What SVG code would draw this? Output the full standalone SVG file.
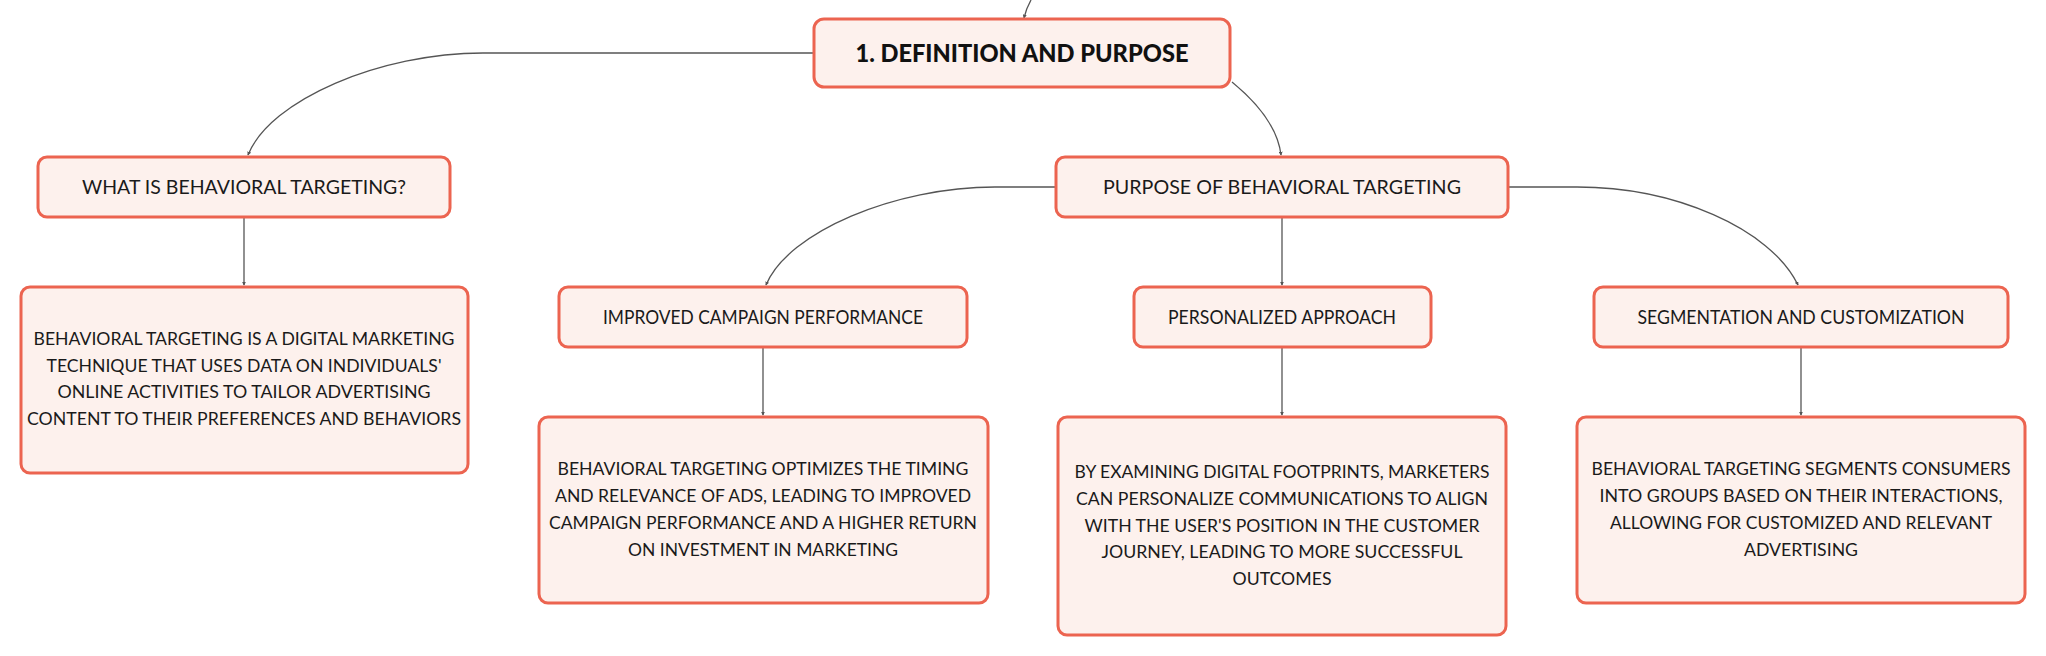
<svg xmlns="http://www.w3.org/2000/svg" width="2046" height="656" viewBox="0 0 2046 656">
<defs>
<marker id="arr" viewBox="0 0 6 6" refX="5" refY="3" markerWidth="4" markerHeight="4" orient="auto" markerUnits="userSpaceOnUse">
<path d="M0,0 L6,3 L0,6 z" fill="#555"/>
</marker>
<style>
.box{fill:#FDF1ED;stroke:#EC6450;stroke-width:3}
.conn{fill:none;stroke:#555;stroke-width:1.3;marker-end:url(#arr)}
.t{font-family:Lato,"Open Sans","DejaVu Sans",sans-serif;fill:#1a1a1a;text-anchor:middle}
.root{font-size:24px;font-weight:900;fill:#111}
.lbl{font-size:18.5px}
.det{font-size:17px}
</style>
</defs>
<rect width="2046" height="656" fill="#ffffff"/>
<g id="connectors">
<path class="conn" d="M1031,0 Q1026,9 1024,18"/>
<path class="conn" d="M813,53 H483 C380,53 270,100 248,155"/>
<path class="conn" d="M1232,82 C1260,105 1278,130 1281,155"/>
<path class="conn" d="M1055,187 H995 C895,187 788,232 766,285"/>
<path class="conn" d="M1509,187 H1577 C1674,187 1770,228 1798,285"/>
<path class="conn" d="M244,218 V285"/>
<path class="conn" d="M763,348 V415"/>
<path class="conn" d="M1282,218 V285"/>
<path class="conn" d="M1282,348 V415"/>
<path class="conn" d="M1801,348 V415"/>
</g>
<g id="root">
<rect class="box" x="814" y="19" width="416" height="68" rx="10"/>
<text class="t root" x="1022" y="62" textLength="333" lengthAdjust="spacingAndGlyphs">1. DEFINITION AND PURPOSE</text>
</g>
<g id="what-is">
<rect class="box" x="38" y="157" width="412" height="60" rx="9"/>
<text class="t lbl" x="244" y="194" textLength="324" lengthAdjust="spacingAndGlyphs">WHAT IS BEHAVIORAL TARGETING?</text>
</g>
<g id="definition">
<rect class="box" x="21" y="287" width="447" height="186" rx="9"/>
<text class="t det" x="244" y="345" textLength="421" lengthAdjust="spacingAndGlyphs">BEHAVIORAL TARGETING IS A DIGITAL MARKETING</text>
<text class="t det" x="244" y="372" textLength="395" lengthAdjust="spacingAndGlyphs">TECHNIQUE THAT USES DATA ON INDIVIDUALS'</text>
<text class="t det" x="244" y="398" textLength="373" lengthAdjust="spacingAndGlyphs">ONLINE ACTIVITIES TO TAILOR ADVERTISING</text>
<text class="t det" x="244" y="425" textLength="434" lengthAdjust="spacingAndGlyphs">CONTENT TO THEIR PREFERENCES AND BEHAVIORS</text>
</g>
<g id="purpose">
<rect class="box" x="1056" y="157" width="452" height="60" rx="9"/>
<text class="t lbl" x="1282" y="194" textLength="358" lengthAdjust="spacingAndGlyphs">PURPOSE OF BEHAVIORAL TARGETING</text>
</g>
<g id="improved">
<rect class="box" x="559" y="287" width="408" height="60" rx="9"/>
<text class="t lbl" x="763" y="324" textLength="320" lengthAdjust="spacingAndGlyphs">IMPROVED CAMPAIGN PERFORMANCE</text>
</g>
<g id="improved-detail">
<rect class="box" x="539" y="417" width="449" height="186" rx="9"/>
<text class="t det" x="763" y="475" textLength="411" lengthAdjust="spacingAndGlyphs">BEHAVIORAL TARGETING OPTIMIZES THE TIMING</text>
<text class="t det" x="763" y="502" textLength="416" lengthAdjust="spacingAndGlyphs">AND RELEVANCE OF ADS, LEADING TO IMPROVED</text>
<text class="t det" x="763" y="529" textLength="428" lengthAdjust="spacingAndGlyphs">CAMPAIGN PERFORMANCE AND A HIGHER RETURN</text>
<text class="t det" x="763" y="556" textLength="270" lengthAdjust="spacingAndGlyphs">ON INVESTMENT IN MARKETING</text>
</g>
<g id="personalized">
<rect class="box" x="1134" y="287" width="297" height="60" rx="9"/>
<text class="t lbl" x="1282" y="324" textLength="228" lengthAdjust="spacingAndGlyphs">PERSONALIZED APPROACH</text>
</g>
<g id="personalized-detail">
<rect class="box" x="1058" y="417" width="448" height="218" rx="9"/>
<text class="t det" x="1282" y="478" textLength="415" lengthAdjust="spacingAndGlyphs">BY EXAMINING DIGITAL FOOTPRINTS, MARKETERS</text>
<text class="t det" x="1282" y="505" textLength="412" lengthAdjust="spacingAndGlyphs">CAN PERSONALIZE COMMUNICATIONS TO ALIGN</text>
<text class="t det" x="1282" y="532" textLength="395" lengthAdjust="spacingAndGlyphs">WITH THE USER'S POSITION IN THE CUSTOMER</text>
<text class="t det" x="1282" y="558" textLength="361" lengthAdjust="spacingAndGlyphs">JOURNEY, LEADING TO MORE SUCCESSFUL</text>
<text class="t det" x="1282" y="585" textLength="99" lengthAdjust="spacingAndGlyphs">OUTCOMES</text>
</g>
<g id="segmentation">
<rect class="box" x="1594" y="287" width="414" height="60" rx="9"/>
<text class="t lbl" x="1801" y="324" textLength="327" lengthAdjust="spacingAndGlyphs">SEGMENTATION AND CUSTOMIZATION</text>
</g>
<g id="segmentation-detail">
<rect class="box" x="1577" y="417" width="448" height="186" rx="9"/>
<text class="t det" x="1801" y="475" textLength="419" lengthAdjust="spacingAndGlyphs">BEHAVIORAL TARGETING SEGMENTS CONSUMERS</text>
<text class="t det" x="1801" y="502" textLength="403" lengthAdjust="spacingAndGlyphs">INTO GROUPS BASED ON THEIR INTERACTIONS,</text>
<text class="t det" x="1801" y="529" textLength="382" lengthAdjust="spacingAndGlyphs">ALLOWING FOR CUSTOMIZED AND RELEVANT</text>
<text class="t det" x="1801" y="556" textLength="114" lengthAdjust="spacingAndGlyphs">ADVERTISING</text>
</g>
</svg>
